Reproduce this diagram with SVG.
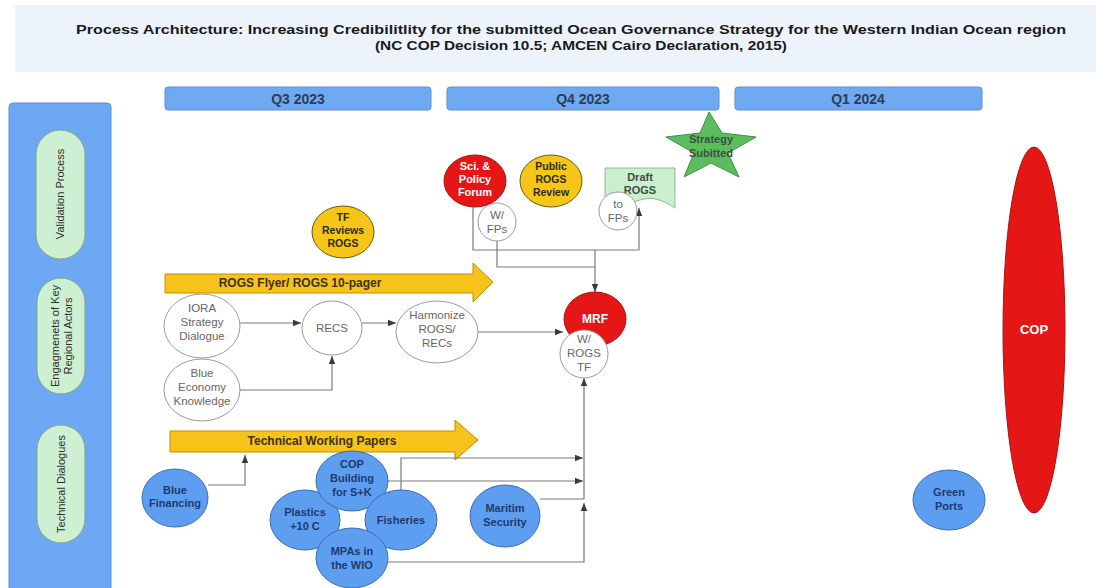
<svg xmlns="http://www.w3.org/2000/svg" width="1096" height="588" viewBox="0 0 1096 588">
<style>
text{font-family:"Liberation Sans",Arial,sans-serif;text-anchor:middle;}
.title{font-size:13px;font-weight:bold;fill:#1a1a1a;}
.q{font-size:14px;font-weight:bold;fill:#2b3d57;}
.qbar{fill:#6fa9f2;stroke:#5a90d8;stroke-width:1;}
.pill{fill:#cdf0d2;stroke:#7da886;stroke-width:1;}
.pt{font-size:11px;fill:#2e2e2e;}
.blue{fill:#5e9ef0;stroke:#3b6db5;stroke-width:1;}
.bt{font-size:11px;font-weight:bold;fill:#1f3a6e;}
.yel{fill:#f5c518;stroke:#6b5a10;stroke-width:1;}
.yt{font-size:10.5px;font-weight:bold;fill:#2e2a10;}
.red{fill:#e51616;stroke:#b01010;stroke-width:1;}
.rt{font-size:11px;font-weight:bold;fill:#ffffff;}
.wc{fill:#ffffff;stroke:#9a9a9a;stroke-width:1;}
.wt{font-size:11.5px;fill:#666666;}
.gt{font-size:11px;font-weight:bold;fill:#3d5040;}
.arrowband{fill:#f7c21a;stroke:#c09000;stroke-width:1;}
.at{font-size:12px;font-weight:bold;fill:#3a3210;}
.conn path{fill:none;stroke:#7b7b7b;stroke-width:1.2;marker-end:url(#ah);}
.conn path.nm{marker-end:none;}
</style>
<defs>
<marker id="ah" viewBox="0 0 10 10" refX="10" refY="5" markerWidth="8" markerHeight="8" orient="auto" markerUnits="userSpaceOnUse">
<path d="M0,1 L10,5 L0,9 z" fill="#3a3a3a"/>
</marker>
</defs>
<rect width="1096" height="588" fill="#ffffff"/>

<g id="title">
<rect x="15" y="5" width="1081" height="67" fill="#edf3fb"/>
<text class="title" x="571" y="34" textLength="990" lengthAdjust="spacingAndGlyphs">Process Architecture: Increasing Credibilitlity for the submitted Ocean Governance Strategy for the Western Indian Ocean region</text>
<text class="title" x="581" y="50" textLength="412" lengthAdjust="spacingAndGlyphs">(NC COP Decision 10.5; AMCEN Cairo Declaration, 2015)</text>
</g>

<g id="q3"><rect class="qbar" x="165" y="87" width="266" height="23" rx="3"/><text class="q" x="298" y="104">Q3 2023</text></g>
<g id="q4"><rect class="qbar" x="447" y="87" width="272" height="23" rx="3"/><text class="q" x="583" y="104">Q4 2023</text></g>
<g id="q1"><rect class="qbar" x="735" y="87" width="247" height="23" rx="3"/><text class="q" x="858" y="104">Q1 2024</text></g>

<g id="lanes">
<rect x="9" y="103" width="102" height="492" rx="4" fill="#6ea7f3" stroke="#5a8fd6"/>
<g id="lane-validation"><rect class="pill" x="36" y="130" width="49" height="129" rx="24.5"/><text class="pt" transform="translate(64,194) rotate(-90)">Validation Process</text></g>
<g id="lane-engage"><rect class="pill" x="37" y="278" width="48" height="116" rx="24"/><text class="pt" transform="translate(59,336) rotate(-90)" textLength="102" lengthAdjust="spacingAndGlyphs">Engagmenets of Key</text><text class="pt" transform="translate(72,336) rotate(-90)">Regional Actors</text></g>
<g id="lane-tech"><rect class="pill" x="37" y="425" width="48" height="118" rx="24"/><text class="pt" transform="translate(65,484) rotate(-90)">Technical Dialogues</text></g>
</g>

<g id="rogs-flyer">
<path class="arrowband" d="M165,274 H473 V263 L493,282 L473,302 V293 H165 Z"/>
<text class="at" x="300" y="287">ROGS Flyer/ ROGS 10-pager</text>
</g>
<g id="tech-papers">
<path class="arrowband" d="M170,431 H455 V420 L478,440 L455,460 V452 H170 Z"/>
<text class="at" x="322" y="445">Technical Working Papers</text>
</g>

<g class="conn" id="connectors">
<path d="M240,323 H301"/>
<path d="M362,323 H396"/>
<path d="M240,390 H332 V356"/>
<path d="M478,332 H563"/>
<path d="M473,207 V250 H639 V208"/>
<path d="M595,250 V292"/>
<path class="nm" d="M497,241 V267 H595"/>
<path d="M208,485 H245 V455"/>
<path d="M401,490 V458 H583"/>
<path d="M388,481 H583"/>
<path d="M540,499 H584 V378"/>
<path d="M388,562 H584 V503"/>
</g>

<g id="tf-reviews"><ellipse class="yel" cx="343" cy="232" rx="31" ry="26"/><text class="yt" x="343" y="221">TF</text><text class="yt" x="343" y="234">Reviews</text><text class="yt" x="343" y="247">ROGS</text></g>

<g id="sci-forum"><ellipse class="red" cx="475" cy="181" rx="31" ry="26"/><text class="rt" x="475" y="170">Sci. &amp;</text><text class="rt" x="475" y="183">Policy</text><text class="rt" x="475" y="196">Forum</text></g>
<g id="w-fps"><circle class="wc" cx="497" cy="222" r="19"/><text class="wt" x="497" y="219">W/</text><text class="wt" x="497" y="233">FPs</text></g>

<g id="public-review"><ellipse class="yel" cx="551" cy="181" rx="31" ry="26"/><text class="yt" x="551" y="170">Public</text><text class="yt" x="551" y="183">ROGS</text><text class="yt" x="551" y="196">Review</text></g>

<g id="draft-rogs"><path d="M605,168 H675 V208 C663,200 652,196 640,200 C628,204 616,206 605,200 Z" fill="#c9efcf" stroke="#8fb895" stroke-width="1"/><text class="gt" x="640" y="181">Draft</text><text class="gt" x="640" y="194">ROGS</text></g>
<g id="to-fps"><circle class="wc" cx="618" cy="211" r="19"/><text class="wt" x="618" y="208">to</text><text class="wt" x="618" y="222">FPs</text></g>

<g id="strategy"><polygon points="709,112 722,133 756,137 728,153 739,177 711,163 684,177 694,153 666,137 700,133" fill="#5cbd5e" stroke="#3f8f43" stroke-width="1"/><text class="gt" x="711" y="143">Strategy</text><text class="gt" x="711" y="157">Subitted</text></g>

<g id="iora"><ellipse class="wc" cx="202" cy="326" rx="38" ry="32"/><text class="wt" x="202" y="312">IORA</text><text class="wt" x="202" y="326">Strategy</text><text class="wt" x="202" y="340">Dialogue</text></g>
<g id="blue-economy"><ellipse class="wc" cx="202" cy="390" rx="38" ry="31"/><text class="wt" x="202" y="377">Blue</text><text class="wt" x="202" y="391">Economy</text><text class="wt" x="202" y="405">Knowledge</text></g>
<g id="recs"><ellipse class="wc" cx="332" cy="328" rx="30" ry="27"/><text class="wt" x="332" y="332">RECS</text></g>
<g id="harmonize"><ellipse class="wc" cx="437" cy="332" rx="41" ry="31"/><text class="wt" x="437" y="319">Harmonize</text><text class="wt" x="437" y="333">ROGS/</text><text class="wt" x="437" y="347">RECs</text></g>

<g id="mrf"><ellipse class="red" cx="595" cy="319" rx="31" ry="27"/><text class="rt" x="595" y="323" style="font-size:12px">MRF</text></g>
<g id="w-rogs-tf"><circle class="wc" cx="584" cy="354" r="24"/><text class="wt" x="584" y="343">W/</text><text class="wt" x="584" y="357">ROGS</text><text class="wt" x="584" y="371">TF</text></g>

<g id="blue-financing"><ellipse class="blue" cx="175" cy="498" rx="33" ry="29"/><text class="bt" x="175" y="494">Blue</text><text class="bt" x="175" y="507">Financing</text></g>
<g id="plastics"><ellipse class="blue" cx="305" cy="520" rx="35" ry="30"/><text class="bt" x="305" y="516">Plastics</text><text class="bt" x="305" y="530">+10 C</text></g>
<g id="cop-building"><ellipse class="blue" cx="352" cy="481" rx="36" ry="30"/><text class="bt" x="352" y="468">COP</text><text class="bt" x="352" y="482">Building</text><text class="bt" x="352" y="496">for S+K</text></g>
<g id="fisheries"><ellipse class="blue" cx="401" cy="520" rx="36" ry="30"/><text class="bt" x="401" y="524">Fisheries</text></g>
<g id="mpas"><ellipse class="blue" cx="352" cy="558" rx="36" ry="30"/><text class="bt" x="352" y="555">MPAs in</text><text class="bt" x="352" y="569">the WIO</text></g>
<g id="maritim"><ellipse class="blue" cx="505" cy="516" rx="35" ry="31"/><text class="bt" x="505" y="512">Maritim</text><text class="bt" x="505" y="526">Security</text></g>
<g id="green-ports"><ellipse class="blue" cx="949" cy="500" rx="36" ry="30"/><text class="bt" x="949" y="496">Green</text><text class="bt" x="949" y="510">Ports</text></g>

<g id="cop"><ellipse class="red" cx="1034" cy="330" rx="31" ry="183"/><text class="rt" x="1034" y="334" style="font-size:13px">COP</text></g>
</svg>
